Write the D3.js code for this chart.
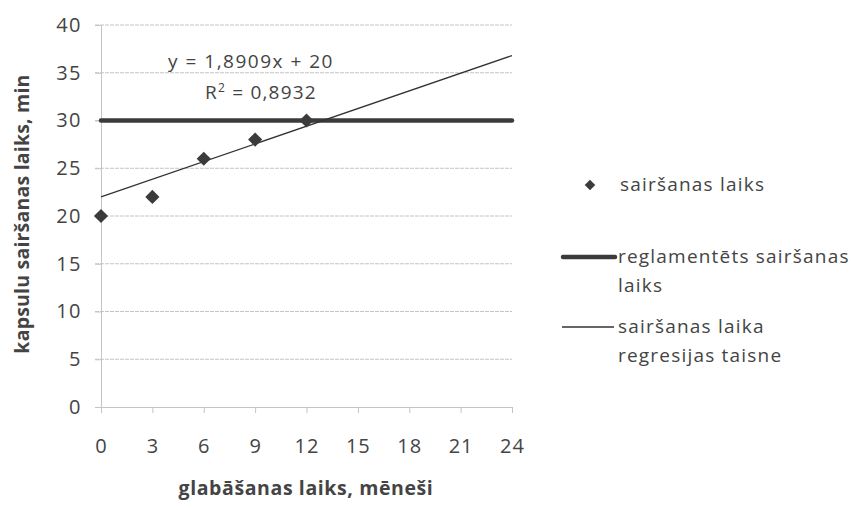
<!DOCTYPE html>
<html>
<head>
<meta charset="utf-8">
<script src="https://cdn.jsdelivr.net/npm/d3@7"></script>
<style>
  html, body { margin: 0; padding: 0; background: #fff; }
  svg { display: block; font-family: "Open Sans", sans-serif; }
</style>
</head>
<body>
<svg id="chart" width="853" height="510"></svg>
<script>
// Storage time (months) and dissolution time (min)
const months = [0, 3, 6, 9, 12];
const dissolution = [20, 22, 26, 28, 30];
// Regulated dissolution limit
const limitValue = 30;
// Regression line as drawn, values at the ends of the axis
const trendX = [0, 24];
const trendY = [22, 36.8];
const equationLabel = "y = 1,8909x + 20";
const rSquaredValue = "0,8932";
const xTicks = [0, 3, 6, 9, 12, 15, 18, 21, 24];
const yTicks = [0, 5, 10, 15, 20, 25, 30, 35, 40];
const seriesNames = ["sairšanas laiks", ["reglamentēts sairšanas", "laiks"], ["sairšanas laika", "regresijas taisne"]];

const svg = d3.select("#chart");
const x = d3.scaleLinear().domain([0, 24]).range([101, 512]);
const y = d3.scaleLinear().domain([0, 40]).range([407, 25]);

const gridColor = "#c4c4c4";
const textColor = "#444";
const markColor = "#3b3b3b";
const font = "'Open Sans', sans-serif";

// horizontal gridlines
svg.append("g").selectAll("line").data(yTicks.filter(d => d > 0)).join("line")
  .attr("x1", x(0) - 6).attr("x2", x(24))
  .attr("y1", d => y(d)).attr("y2", d => y(d))
  .attr("stroke", gridColor).attr("stroke-width", 1)
  .attr("stroke-dasharray", "4,1");

// y axis
const yAxis = svg.append("g").attr("transform", `translate(${x(0)},0)`)
  .call(d3.axisLeft(y).tickValues(yTicks).tickSize(6).tickPadding(13));
yAxis.select(".domain").attr("stroke", gridColor);
yAxis.selectAll(".tick line").attr("stroke", gridColor);
yAxis.selectAll("text").attr("fill", textColor).attr("font-size", 20)
  .attr("font-family", font).attr("letter-spacing", 1.5);

// x axis
const xAxis = svg.append("g").attr("transform", `translate(0,${y(0)})`)
  .call(d3.axisBottom(x).tickValues(xTicks).tickSize(6).tickPadding(26));
xAxis.select(".domain").attr("stroke", gridColor);
xAxis.selectAll(".tick line").attr("stroke", gridColor);
xAxis.selectAll("text").attr("fill", textColor).attr("font-size", 20)
  .attr("font-family", font).attr("letter-spacing", 1);

// axis titles
svg.append("text")
  .attr("transform", `translate(29,${214}) rotate(-90)`)
  .attr("text-anchor", "middle")
  .attr("font-size", 19.5).attr("font-weight", "bold").attr("fill", textColor)
  .attr("letter-spacing", 0.2)
  .text("kapsulu sairšanas laiks, min");
svg.append("text")
  .attr("x", 306).attr("y", 495)
  .attr("text-anchor", "middle")
  .attr("font-size", 19.5).attr("font-weight", "bold").attr("fill", textColor)
  .attr("letter-spacing", 0.6)
  .text("glabāšanas laiks, mēneši");

// regulated limit line
svg.append("line")
  .attr("x1", x(0)).attr("x2", x(24))
  .attr("y1", y(limitValue)).attr("y2", y(limitValue))
  .attr("stroke", markColor).attr("stroke-width", 4.5).attr("stroke-linecap", "round");

// regression line
svg.append("line")
  .attr("x1", x(trendX[0])).attr("x2", x(trendX[1]))
  .attr("y1", y(trendY[0])).attr("y2", y(trendY[1]))
  .attr("stroke", "#333").attr("stroke-width", 1.3);

// data markers
const diamond = d3.symbol().type(d3.symbolSquare).size(100);
svg.append("g").selectAll("path").data(months.map((m, i) => [m, dissolution[i]])).join("path")
  .attr("d", diamond)
  .attr("transform", d => `translate(${x(d[0])},${y(d[1])}) rotate(45)`)
  .attr("fill", markColor);

// trendline equation
svg.append("text").attr("x", 251).attr("y", 68).attr("text-anchor", "middle")
  .attr("font-size", 19).attr("letter-spacing", 1.5).attr("fill", textColor).text(equationLabel);
const r2 = svg.append("text").attr("x", 261).attr("y", 99).attr("text-anchor", "middle")
  .attr("font-size", 19).attr("letter-spacing", 1.2).attr("fill", textColor);
r2.append("tspan").text("R");
r2.append("tspan").attr("font-size", 12).attr("dy", -7).text("2");
r2.append("tspan").attr("dy", 7).text(" = " + rSquaredValue);

// legend
const legend = svg.append("g").attr("font-size", 19).attr("letter-spacing", 1.2).attr("fill", textColor);
legend.append("path")
  .attr("d", d3.symbol().type(d3.symbolSquare).size(56))
  .attr("transform", "translate(590,185) rotate(45)")
  .attr("fill", markColor);
legend.append("text").attr("x", 620).attr("y", 191).text(seriesNames[0]);

legend.append("line").attr("x1", 563).attr("x2", 615).attr("y1", 257).attr("y2", 257)
  .attr("stroke", markColor).attr("stroke-width", 4.5).attr("stroke-linecap", "round");
seriesNames[1].forEach((t, i) => legend.append("text").attr("x", 618).attr("y", 263 + i * 29).text(t));

legend.append("line").attr("x1", 562).attr("x2", 614).attr("y1", 327).attr("y2", 327)
  .attr("stroke", "#333").attr("stroke-width", 1.3);
seriesNames[2].forEach((t, i) => legend.append("text").attr("x", 618).attr("y", 333 + i * 29).text(t));
</script>
</body>
</html>
